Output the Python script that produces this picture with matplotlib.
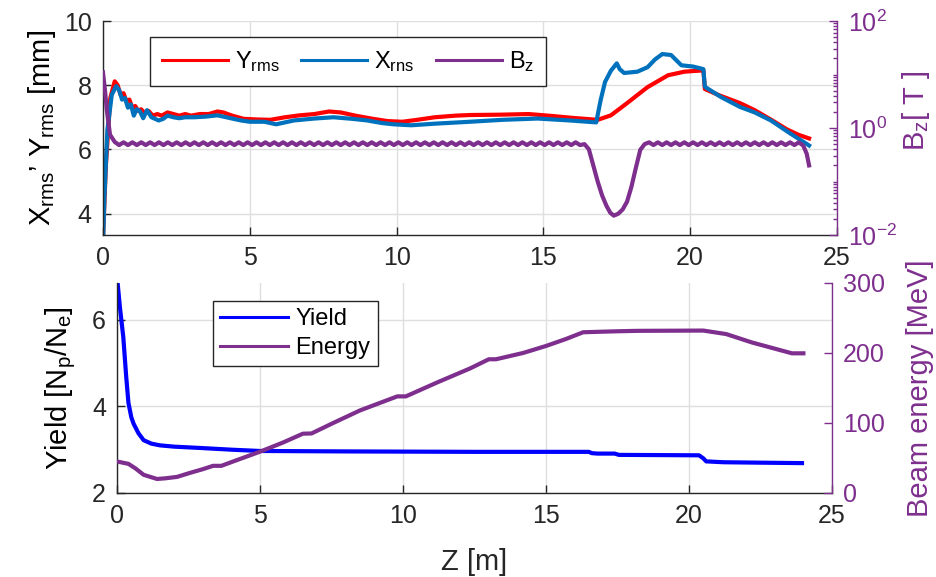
import numpy as np
import matplotlib
matplotlib.use("Agg")
import matplotlib.pyplot as plt
from matplotlib.ticker import LogLocator, NullFormatter, FixedLocator

plt.rcParams['font.family'] = ['Liberation Sans', 'DejaVu Sans']
plt.rcParams['mathtext.fontset'] = 'custom'
plt.rcParams['mathtext.rm'] = 'Liberation Sans'
plt.rcParams['mathtext.it'] = 'Liberation Sans:italic'
plt.rcParams['mathtext.bf'] = 'Liberation Sans:bold'

# ---------------- beam size along the line ----------------
yrms_z = [0.0, 0.1, 0.25, 0.4, 0.5, 0.6, 0.7, 0.8, 0.9, 1.0, 1.1, 1.2, 1.3, 1.4,
          1.55, 1.7, 1.85, 2.0, 2.2, 2.4, 2.6, 2.8, 3.0, 3.3, 3.6, 3.9, 4.1, 4.4,
          4.8, 5.3, 5.7, 6.2, 6.7, 7.2, 7.7, 8.1, 8.6, 9.2, 9.7, 10.2, 10.7, 11.3,
          12.0, 12.5, 13.5, 14.5, 15.3, 16.0, 16.85, 17.3, 17.85, 18.55, 19.25,
          19.8, 20.1, 20.45, 20.5, 21.0, 21.7, 22.2, 22.8, 23.3, 23.7, 24.05]
yrms_mm = [3.2, 5.5, 7.6, 8.12, 8.0, 7.7, 7.75, 7.5, 7.55, 7.3, 7.35, 7.2, 7.25, 7.15,
           7.2, 7.05, 7.1, 7.05, 7.15, 7.1, 7.05, 7.1, 7.05, 7.1, 7.1, 7.18, 7.15, 7.05,
           6.95, 6.93, 6.92, 7.0, 7.06, 7.1, 7.18, 7.15, 7.05, 6.95, 6.88, 6.86, 6.92, 7.0,
           7.05, 7.07, 7.08, 7.1, 7.04, 6.98, 6.92, 7.06, 7.44, 7.94, 8.31,
           8.42, 8.44, 8.46, 7.88, 7.68, 7.44, 7.22, 6.9, 6.62, 6.45, 6.34]

xrms_z = [0.0, 0.05, 0.15, 0.3, 0.45, 0.55, 0.65, 0.75, 0.85, 0.95, 1.05, 1.15, 1.25,
          1.37, 1.5, 1.65, 1.9, 2.05, 2.2, 2.4, 2.6, 2.8, 3.1, 3.5, 3.9, 4.3, 4.7,
          5.0, 5.5, 5.9, 6.5, 7.2, 7.85, 8.5, 9.0, 9.5, 9.9, 10.5, 11.3, 12.5, 13.6,
          14.8, 15.9, 16.8, 16.95, 17.1, 17.3, 17.5, 17.6, 17.75, 18.2, 18.55, 18.8,
          19.05, 19.35, 19.7, 20.1, 20.45, 20.5, 21.05, 21.7, 22.2, 22.75, 23.4, 24.05]
xrms_mm = [3.0, 4.5, 6.6, 7.7, 7.97, 7.85, 7.55, 7.6, 7.3, 7.4, 7.05, 7.25, 7.2,
           6.97, 7.22, 7.0, 6.9, 6.95, 7.05, 7.0, 6.97, 7.0, 7.0, 7.02, 7.06, 6.98, 6.9,
           6.86, 6.86, 6.78, 6.9, 6.96, 7.0, 6.95, 6.9, 6.82, 6.78, 6.75, 6.8, 6.86, 6.92,
           6.96, 6.9, 6.84, 7.53, 8.1, 8.45, 8.68, 8.5, 8.38, 8.42, 8.56, 8.8,
           8.97, 8.94, 8.62, 8.58, 8.5, 7.95, 7.63, 7.32, 7.15, 6.9, 6.5, 6.12]

# ---------------- solenoid field ----------------
# entrance: target solenoid field falling off
bz_head_z = [0.0, 0.07, 0.13, 0.24, 0.4]
bz_head_t = [11.0, 5.0, 2.2, 0.75, 0.55]
# first accelerating section (ripple of the solenoid coils, 0.55 m .. 16.25 m)
bz_run1_span = (0.55, 16.25)
bz_run1_t = [
    0.48, 0.54, 0.48, 0.54, 0.48, 0.54, 0.48, 0.54, 0.48, 0.54,
    0.48, 0.54, 0.48, 0.54, 0.48, 0.54, 0.48, 0.54, 0.48, 0.54,
    0.48, 0.54, 0.48, 0.54, 0.48, 0.54, 0.48, 0.54, 0.48, 0.54,
    0.48, 0.54, 0.48, 0.54, 0.48, 0.54, 0.48, 0.54, 0.48, 0.54,
    0.48, 0.54, 0.48, 0.54, 0.48, 0.54, 0.48, 0.54, 0.48, 0.54,
    0.48, 0.54, 0.48, 0.54, 0.48, 0.54, 0.48, 0.54, 0.48, 0.54,
    0.48, 0.54, 0.48, 0.54, 0.48, 0.54, 0.48, 0.54, 0.48, 0.54,
    0.48, 0.54, 0.48, 0.54, 0.48, 0.54, 0.48, 0.54, 0.48, 0.54,
    0.48, 0.54, 0.48, 0.54, 0.48, 0.54, 0.48, 0.54, 0.48, 0.54,
    0.48, 0.54, 0.48, 0.54, 0.48, 0.54, 0.48, 0.54, 0.48, 0.54,
    0.48, 0.54, 0.48, 0.54, 0.48]
# chicane gap
bz_gap_z = [16.4, 16.55, 16.7, 16.85, 17.0, 17.15, 17.28, 17.4, 17.55, 17.7,
            17.85, 18.0, 18.15, 18.3, 18.45]
bz_gap_t = [0.50, 0.40, 0.20, 0.10, 0.055, 0.035, 0.026, 0.023, 0.025, 0.030,
            0.042, 0.08, 0.18, 0.39, 0.50]
# second accelerating section (18.6 m .. 23.7 m)
bz_run2_span = (18.6, 23.7)
bz_run2_t = [
    0.54, 0.48, 0.54, 0.48, 0.54, 0.48, 0.54, 0.48, 0.54, 0.48,
    0.54, 0.48, 0.54, 0.48, 0.54, 0.48, 0.54, 0.48, 0.54, 0.48,
    0.54, 0.48, 0.54, 0.48, 0.54, 0.48, 0.54, 0.48, 0.54, 0.48,
    0.54, 0.48, 0.54, 0.48, 0.54]
# exit fringe field
bz_tail_z = [23.85, 23.97, 24.05]
bz_tail_t = [0.47, 0.33, 0.20]

# ---------------- positron yield and beam energy ----------------
yield_z = [0.0, 0.1, 0.22, 0.32, 0.4, 0.5, 0.58, 0.75, 0.93, 1.2, 1.5, 2.0, 2.9,
           4.0, 5.0, 8.0, 12.5, 16.5, 16.6, 16.8, 17.4, 17.55, 20.35, 20.5, 20.6,
           21.2, 22.5, 23.95]
yield_np_ne = [7.0, 6.3, 5.6, 4.7, 4.08, 3.75, 3.6, 3.38, 3.22, 3.14, 3.1, 3.07, 3.04,
               3.0, 2.97, 2.96, 2.95, 2.95, 2.92, 2.91, 2.91, 2.88, 2.87, 2.8, 2.73,
               2.71, 2.7, 2.69]

energy_z = [0.0, 0.4, 0.65, 0.93, 1.4, 1.7, 2.1, 2.55, 3.0, 3.36, 3.65, 4.06, 5.0,
            5.8, 6.5, 6.8, 7.56, 8.5, 9.8, 10.1, 11.2, 12.35, 13.0, 13.25, 14.2,
            15.0, 15.7, 16.3, 17.5, 18.2, 20.5, 21.3, 22.2, 23.6, 24.0]
energy_mev = [45, 41.6, 35, 26, 20, 21, 23, 28.7, 34, 38.8, 38.8, 45, 59,
              72, 84.7, 85, 100, 118, 138, 138, 158, 178, 191, 191, 200,
              210, 220, 229.6, 231, 231.6, 232, 227, 215, 199.5, 199.5]

z_ticks = [0, 5, 10, 15, 20, 25]

# colours
RED = '#FF0000'
MBLUE = '#0072BD'
PURPLE = '#7E2F8E'
BLUE = '#0000FF'
AXC = '#262626'
GRID = '#DFDFDF'

FS = 18
LW = 3.0

fig = plt.figure(figsize=(9.36, 5.77), dpi=100)


def style_left(ax):
    for s in ('top', 'right'):
        ax.spines[s].set_visible(False)
    for s in ('left', 'bottom'):
        ax.spines[s].set_color(AXC)
        ax.spines[s].set_linewidth(1.0)
    ax.tick_params(axis='both', direction='in', length=6, width=1.0,
                   colors=AXC, labelsize=FS, labelcolor=AXC, pad=8)
    ax.set_xlim(0, 25)
    ax.xaxis.set_major_locator(FixedLocator(z_ticks))
    ax.grid(True, color=GRID, linewidth=1.0)
    ax.set_axisbelow(True)


def style_right(ax):
    for s in ('top', 'left', 'bottom'):
        ax.spines[s].set_visible(False)
    ax.spines['right'].set_color(PURPLE)
    ax.spines['right'].set_linewidth(1.0)
    ax.tick_params(axis='y', which='both', direction='in', colors=PURPLE,
                   labelsize=FS, labelcolor=PURPLE, width=1.0, pad=8)
    ax.tick_params(axis='y', which='major', length=6)
    ax.tick_params(axis='y', which='minor', length=3)


# ---------------- top panel ----------------
ax1 = fig.add_axes([0.110, 0.5927, 0.7842, 0.3709])
style_left(ax1)
ax1.set_ylim(3.33, 10)
ax1.set_yticks([4, 6, 8, 10])
l_y, = ax1.plot(yrms_z, yrms_mm, color=RED, lw=LW, solid_joinstyle='round')
l_x, = ax1.plot(xrms_z, xrms_mm, color=MBLUE, lw=LW, solid_joinstyle='round')
ax1.set_ylabel(r'X$_{\rm rms}$’ Y$_{\rm rms}$ [mm]', fontsize=21, color='black', labelpad=4)

ax1r = ax1.twinx()
style_right(ax1r)
bz_z = np.concatenate([bz_head_z,
                       np.linspace(*bz_run1_span, len(bz_run1_t)),
                       bz_gap_z,
                       np.linspace(*bz_run2_span, len(bz_run2_t)),
                       bz_tail_z])
bz_t = np.concatenate([bz_head_t, bz_run1_t, bz_gap_t, bz_run2_t, bz_tail_t])
l_b, = ax1r.plot(bz_z, bz_t, color=PURPLE, lw=LW)
ax1r.set_yscale('log')
ax1r.set_ylim(1e-2, 1e2)
ax1r.yaxis.set_major_locator(FixedLocator([1e-2, 1e0, 1e2]))
ax1r.set_yticklabels([r'$10^{-2}$', r'$10^{0}$', r'$10^{2}$'])
ax1r.yaxis.set_minor_locator(LogLocator(base=10, subs=np.arange(1, 10), numticks=20))
ax1r.yaxis.set_minor_formatter(NullFormatter())
ax1r.text(1.108, 0.58, r'B$_{\rm z}$[ T ]', transform=ax1r.transAxes, rotation=90,
          fontsize=21, color=PURPLE, ha='center', va='center')

leg1 = ax1r.legend([l_y, l_x, l_b], [r'Y$_{\rm rms}$', r'X$_{\rm rns}$', r'B$_{\rm z}$'],
                   loc='upper left', bbox_to_anchor=(0.064, 0.925), ncol=3,
                   fontsize=17, frameon=True, fancybox=False, framealpha=1,
                   edgecolor=AXC, handlelength=2.8, handletextpad=0.3,
                   columnspacing=0.9, borderpad=0.5, borderaxespad=0)
leg1.get_frame().set_linewidth(1.0)
for h in leg1.get_lines():
    h.set_linewidth(2.2)

# ---------------- bottom panel ----------------
ax2 = fig.add_axes([0.125, 0.1456, 0.7639, 0.364])
style_left(ax2)
ax2.set_ylim(2, 6.85)
ax2.set_yticks([2, 4, 6])
l_yield, = ax2.plot(yield_z, yield_np_ne, color=BLUE, lw=LW)
ax2.set_ylabel(r'Yield [N$_{\rm p}$/N$_{\rm e}$]', fontsize=21, color='black', labelpad=10)
ax2.set_xlabel('Z [m]', fontsize=21, color=AXC, labelpad=14)

ax2r = ax2.twinx()
style_right(ax2r)
ax2r.set_ylim(0, 300)
ax2r.set_yticks([0, 100, 200, 300])
l_en, = ax2r.plot(energy_z, energy_mev, color=PURPLE, lw=LW)
ax2r.set_ylabel('Beam energy [MeV]', fontsize=21, color=PURPLE, labelpad=15)

leg2 = ax2r.legend([l_yield, l_en], ['Yield', 'Energy'], loc='upper left',
                   bbox_to_anchor=(0.134, 0.914), fontsize=17, frameon=True,
                   fancybox=False, framealpha=1, edgecolor=AXC, handlelength=2.9,
                   handletextpad=0.3, borderpad=0.3, labelspacing=0.3,
                   borderaxespad=0)
leg2.get_frame().set_linewidth(1.0)
for h in leg2.get_lines():
    h.set_linewidth(2.2)

fig.savefig('out.png', dpi=100)
